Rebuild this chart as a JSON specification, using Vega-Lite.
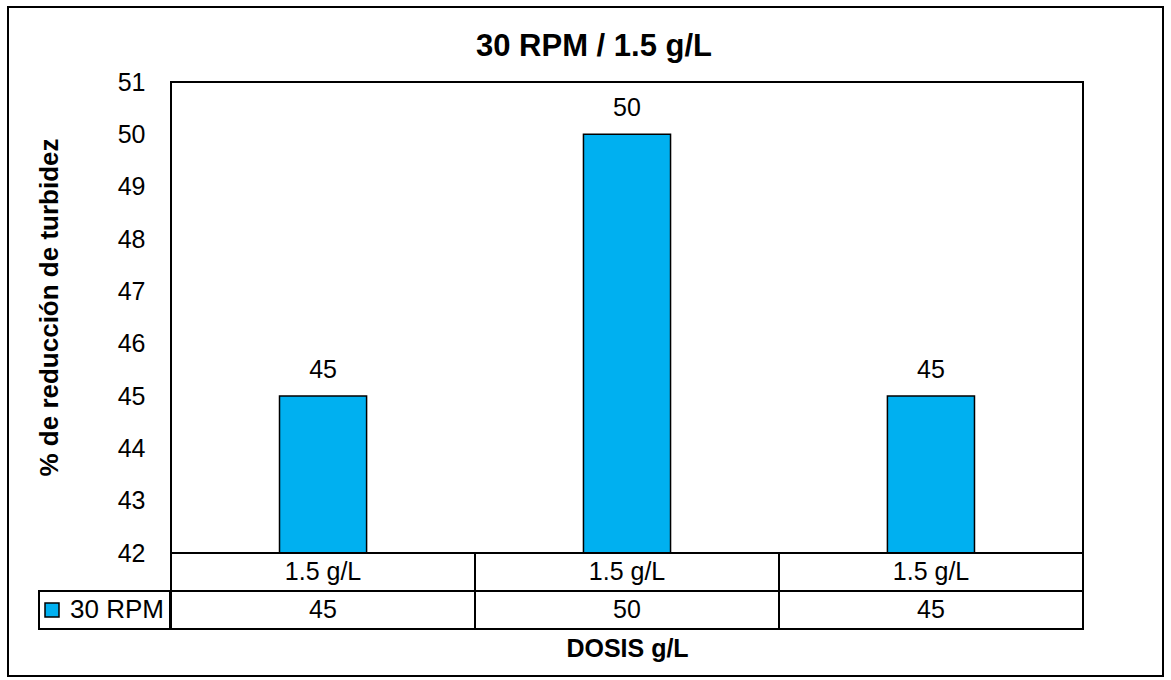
{
  "$schema": "https://vega.github.io/schema/vega-lite/v6.json",
  "background": "white",
  "padding": {"left": 6, "top": 5, "right": 7, "bottom": 7},
  "config": {
    "font": "Liberation Sans",
    "view": {"stroke": "black", "strokeWidth": 2},
    "axis": {"labelColor": "black", "titleColor": "black"},
    "title": {"color": "black"},
    "legend": {"labelColor": "black"}
  },
  "datasets": {
    "datos": [
      {"id": "1", "dosis": "1.5 g/L", "serie": "30 RPM", "valor": 45},
      {"id": "2", "dosis": "1.5 g/L", "serie": "30 RPM", "valor": 50},
      {"id": "3", "dosis": "1.5 g/L", "serie": "30 RPM", "valor": 45}
    ]
  },
  "bounds": "flush",
  "spacing": 0,
  "vconcat": [
    {
      "width": 912,
      "height": 471,
      "data": {"name": "datos"},
      "title": {"text": "30 RPM / 1.5 g/L", "fontSize": 31, "fontWeight": "bold", "anchor": "middle", "dx": -33, "offset": -81, "baseline": "alphabetic"},
      "encoding": {
        "x": {"field": "id", "type": "nominal", "axis": null, "scale": {"paddingInner": 0.7135, "paddingOuter": 0.357}},
        "y": {
          "field": "valor",
          "type": "quantitative",
          "scale": {"domain": [42, 51], "zero": false, "nice": false},
          "axis": {
            "title": "% de reducción de turbidez",
            "values": [42, 43, 44, 45, 46, 47, 48, 49, 50, 51],
            "ticks": false,
            "domain": false,
            "grid": false,
            "labelFontSize": 25,
            "labelPadding": 26,
            "titleFontSize": 26,
            "titleFontWeight": "bold",
            "titlePadding": 55,
            "titleY": 225
          }
        }
      },
      "resolve": {"scale": {"color": "independent"}, "legend": {"color": "independent"}},
      "layer": [
        {
          "mark": {"type": "bar", "stroke": "black", "strokeWidth": 1.5},
          "encoding": {
            "y2": {"datum": 42},
            "color": {
              "field": "serie",
              "type": "nominal",
              "scale": {"range": ["#00B0F0"]},
              "legend": {
                "title": null,
                "orient": "none",
                "legendX": -132,
                "legendY": 509,
                "symbolType": "square",
                "symbolSize": 196,
                "symbolStrokeColor": "black",
                "symbolStrokeWidth": 1.5,
                "symbolOpacity": 1,
                "symbolOffset": -6,
                "labelFontSize": 26,
                "labelOffset": 5,
                "padding": 6,
                "strokeColor": "black",
                "fillColor": "white",
                "encode": {
                  "symbols": {"update": {"fill": {"value": "#00B0F0"}, "stroke": {"value": "black"}}},
                  "legend": {"update": {"strokeWidth": {"value": 2}}}
                }
              }
            }
          }
        },
        {
          "mark": {"type": "text", "fontSize": 25, "baseline": "alphabetic", "dy": -18},
          "encoding": {
            "text": {"field": "valor"},
            "color": {
              "field": "valor",
              "type": "quantitative",
              "scale": {"range": ["black", "black"]},
              "legend": {
                "type": "gradient",
                "orient": "none",
                "direction": "horizontal",
                "legendX": -163,
                "legendY": -75,
                "title": null,
                "gradientLength": 1155,
                "gradientThickness": 668,
                "gradientOpacity": 0,
                "gradientStrokeWidth": 0,
                "labelOpacity": 0,
                "labelFontSize": 1,
                "labelOffset": 0,
                "padding": 0,
                "strokeColor": "black",
                "encode": {"legend": {"update": {"strokeWidth": {"value": 2}}}}
              }
            }
          }
        }
      ]
    },
    {
      "width": 912,
      "height": 76,
      "data": {"name": "datos"},
      "transform": [{"fold": ["dosis", "valor"], "as": ["fila", "contenido"]}],
      "view": {"stroke": null},
      "encoding": {
        "x": {
          "field": "id",
          "type": "nominal",
          "scale": {"paddingInner": 0, "paddingOuter": 0},
          "axis": {"title": "DOSIS g/L", "labels": false, "ticks": false, "domain": false, "titleFontSize": 25, "titleFontWeight": "bold", "titlePadding": 7}
        },
        "y": {"field": "fila", "type": "nominal", "sort": ["dosis", "valor"], "scale": {"paddingInner": 0, "paddingOuter": 0}, "axis": null}
      },
      "layer": [
        {"mark": {"type": "rect", "fill": "white", "stroke": "black", "strokeWidth": 2}},
        {
          "mark": {"type": "text", "fontSize": 25, "baseline": "middle", "color": "black"},
          "encoding": {"text": {"field": "contenido"}}
        }
      ]
    }
  ]
}
